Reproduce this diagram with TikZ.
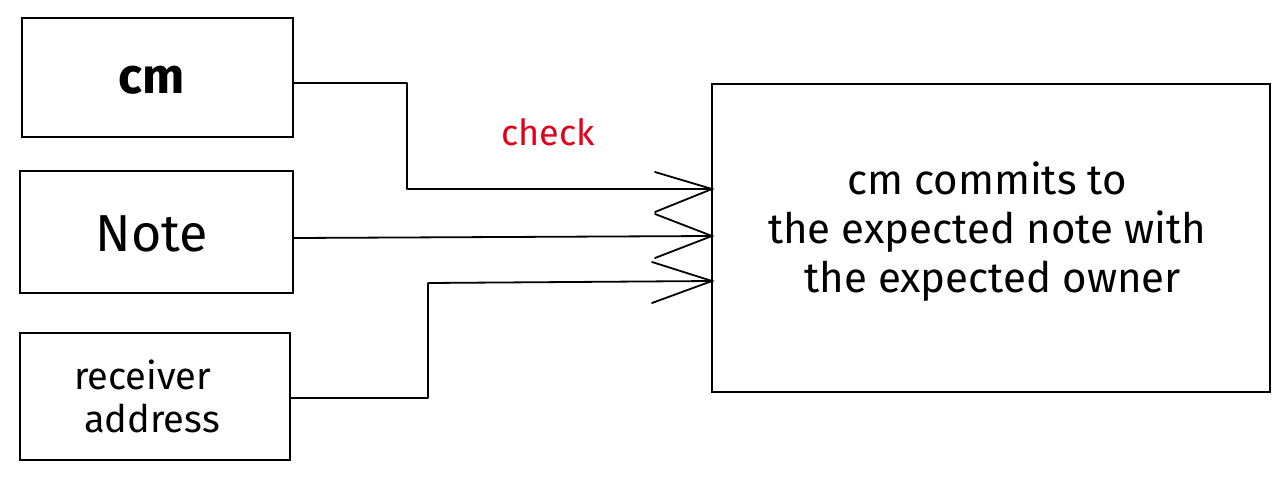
\documentclass[tikz,border=0pt]{standalone}
\usepackage{fontspec}
\setmainfont{Fira Sans}
\definecolor{chk}{HTML}{E0001B}
\begin{document}
\begin{tikzpicture}[x=1pt,y=-1pt,
  box/.style={draw=black,line width=1.7pt,inner sep=0pt},
  conn/.style={draw=black,line width=1.8pt,line join=round},
  head/.style={draw=black,line width=1.8pt,line cap=round}]
\useasboundingbox (0,0) rectangle (1287,479);
\node[box,minimum width=271pt,minimum height=119pt] (cm) at (157.5,77.5) {};
\node[font=\fontsize{50}{54}\selectfont\bfseries] at (152,80) {cm};
\node[box,minimum width=273pt,minimum height=122pt] (note) at (156.5,232) {};
\node[font=\fontsize{52}{56}\selectfont] at (152,234) {Note};
\node[box,minimum width=270pt,minimum height=127pt] (recv) at (155,396.5) {};
\node[font=\fontsize{38}{43}\selectfont,align=left] at (147,396) {receiver\\\ address};
\node[font=\fontsize{42}{49}\selectfont,align=center] at (987,232) {cm commits to\\the expected note with\\\ the expected owner};
\node[box,minimum width=558pt,minimum height=308pt] (big) at (991,238) {};
\node[font=\fontsize{36}{40}\selectfont,text=chk] (chk) at (548,132) {check};
\coordinate (t1) at (712,189);
\coordinate (t2) at (712,236);
\coordinate (t3) at (712,281);
\draw[conn] (cm.east |- 0,83) -- (407,83) -- (407,189) -- (t1);
\draw[conn] (note.east |- 0,238) -- (t2);
\draw[conn] (recv.east |- 0,398) -- (428,398) -- (428,283) -- (t3);
\draw[head] (655,172) -- (t1) -- (655,212);
\draw[head] (655,214) -- (t2) -- (655,258);
\draw[head] (652,262) -- (t3) -- (652,303);
\end{tikzpicture}
\end{document}
